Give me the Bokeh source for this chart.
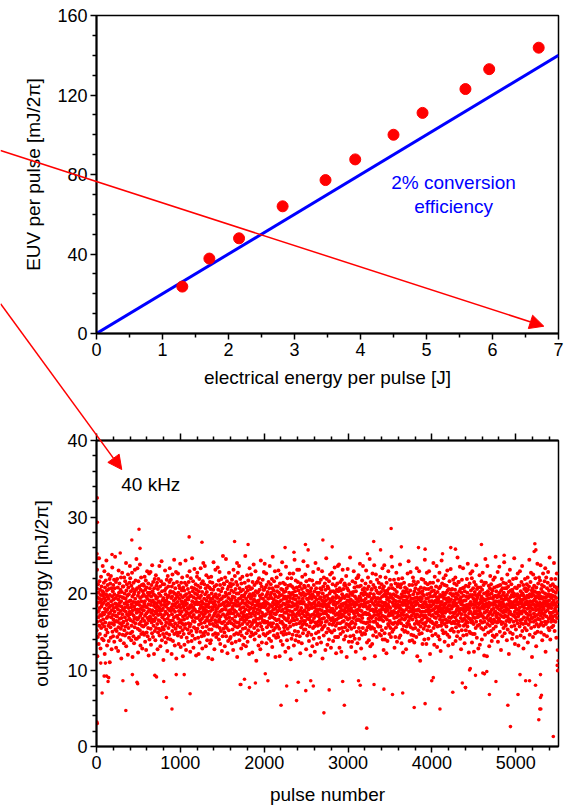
from bokeh.plotting import figure
from bokeh.layouts import column
from bokeh.models import Arrow, NormalHead, LinearAxis, FixedTicker, Label, Range1d
from bokeh.embed import file_html
from bokeh.resources import INLINE

FONT = "Liberation Sans"

# ---------------- top panel data ----------------
ELEC_J = [1.30, 1.71, 2.16, 2.82, 3.47, 3.92, 4.50, 4.94, 5.59, 5.95, 6.70]
EUV_MJ = [23.6, 37.7, 47.9, 64.0, 77.2, 87.6, 100.0, 111.0, 123.0, 133.0, 143.8]
FIT_J = [0, 7]
FIT_MJ = [0, 140]
TOP_XTICKS = [0, 1, 2, 3, 4, 5, 6, 7]
TOP_XMINOR = [0.5, 1.5, 2.5, 3.5, 4.5, 5.5, 6.5]
TOP_YTICKS = [0, 40, 80, 120, 160]
TOP_YMINOR = [10, 20, 30, 50, 60, 70, 90, 100, 110, 130, 140, 150]

# ---------------- bottom panel data ----------------
# pulse-to-pulse output energy (tenths of mJ/2pi), one value per 2 pulses
BAND_TENTHS = """
184 152 207 231 163 118 195 176 143 212 188 169 201 134 177 246 158 193 216 181 147 205 172 189 128 164 198 222 155 183 209 171 192 141 186 160 203 236 175 197
166 201 139 188 214 173 157 229 194 121 180 208 162 145 191 217 176 199 153 243 185 168 204 132 179 196 149 211 170 187 225 158 193 138 206 174 182 161 219 110
198 175 213 156 184 142 223 169 190 207 127 178 161 196 234 150 185 203 172 144 211 166 192 181 159 218 137 199 176 207 163 248 187 153 194 171 215 129 182 164
151 186 170 219 143 197 163 208 179 125 192 156 230 174 201 184 147 213 167 188 161 196 139 205 177 154 221 190 115 168 183 202 158 227 173 195 146 209 180 162
209 163 194 135 178 221 152 187 200 169 145 216 182 157 193 176 240 131 204 165 189 212 148 173 197 160 185 120 225 171 208 155 181 199 142 190 167 214 176 236
173 220 148 191 165 203 182 139 210 158 186 174 227 150 196 117 178 206 163 189 144 214 171 199 135 183 167 202 156 231 179 193 161 217 141 188 205 168 245 175
186 141 207 166 233 179 154 197 123 189 216 168 201 143 176 160 209 185 152 238 194 171 132 205 180 163 221 147 190 174 211 158 196 128 183 167 203 149 178 212
157 199 178 210 146 187 164 222 190 171 137 205 159 183 217 196 126 174 208 149 182 161 229 193 168 144 201 176 155 213 186 119 198 165 226 179 140 191 207 170
201 168 228 154 185 133 196 175 211 162 189 148 237 178 203 166 191 143 215 172 158 199 184 121 207 164 188 219 151 176 197 139 182 168 224 155 193 210 174 187
178 214 160 195 127 183 206 149 172 219 165 190 154 200 181 236 145 177 164 209 188 131 197 173 152 216 185 161 242 178 139 203 169 191 156 212 180 147 194 113
192 153 185 172 212 166 143 204 189 230 158 176 199 136 183 207 162 191 148 218 174 186 125 195 167 223 141 180 209 155 197 171 188 160 146 215 178 233 164 201
164 203 140 218 177 194 159 182 121 209 173 196 151 225 186 165 138 202 179 157 213 191 169 244 147 184 200 132 176 161 207 193 154 187 228 170 115 198 182 149
215 171 196 158 189 145 226 167 201 183 134 177 210 162 193 149 185 207 173 239 156 198 130 181 165 214 143 190 176 204 161 221 187 152 195 118 170 208 183 159
147 188 166 204 133 179 197 214 155 172 191 243 160 185 126 199 176 211 142 187 168 223 194 153 181 206 137 174 192 161 215 180 148 201 171 229 157 196 184 124
182 160 220 175 197 151 185 138 208 169 246 190 145 177 203 164 216 182 129 195 172 156 207 188 232 163 179 141 200 186 154 212 168 193 119 176 205 150 189 222
199 227 154 186 168 210 142 195 176 121 203 159 188 219 171 136 194 180 165 208 150 233 184 197 161 175 213 144 190 167 202 128 182 156 216 187 173 240 148 178
170 145 193 212 181 162 236 174 199 150 186 207 131 178 165 224 191 157 202 183 139 169 210 176 195 147 186 116 221 164 197 182 153 208 172 189 160 215 135 193
206 177 139 165 222 189 153 200 182 168 114 214 193 160 179 146 205 187 241 171 196 158 183 127 209 174 190 165 148 231 185 199 162 176 143 211 180 195 157 170
158 194 181 234 147 172 205 163 189 217 140 184 166 198 228 155 176 211 134 192 170 185 151 203 162 219 178 193 125 186 161 207 144 179 249 173 196 154 188 213
187 163 212 149 196 131 183 221 170 158 201 179 245 144 190 167 198 155 216 184 173 122 206 161 188 138 194 176 209 152 227 169 185 200 164 178 141 213 192 174
143 209 175 188 161 204 192 135 218 180 167 153 196 183 212 126 174 231 159 202 187 146 178 195 164 223 157 186 170 206 137 191 176 215 148 184 200 162 240 117
211 156 189 227 173 147 200 184 162 193 236 171 139 207 158 186 179 219 150 194 166 203 181 128 213 175 145 197 188 160 222 169 191 154 205 133 182 172 196 165
176 198 142 163 214 187 170 249 155 179 201 131 193 166 185 208 148 172 224 160 190 137 204 183 169 217 152 196 178 209 121 188 163 233 174 199 157 181 144 206
193 170 225 181 149 196 159 207 186 123 174 215 162 189 146 200 177 238 165 192 155 181 211 140 197 171 184 163 229 148 203 175 190 112 167 214 185 158 201 179
160 216 188 152 202 174 132 191 167 220 183 144 205 178 197 161 186 127 213 170 243 194 157 182 168 209 136 175 199 186 153 218 164 193 172 205 147 187 228 162
205 182 164 239 171 190 208 145 184 162 196 173 226 135 188 211 156 199 179 163 148 202 187 120 193 176 215 159 181 141 207 194 168 236 150 185 173 198 161 212
172 138 201 176 194 157 219 183 130 207 169 248 188 161 179 152 204 192 145 216 174 186 199 167 229 155 180 117 196 173 209 142 190 165 221 183 159 203 176 147
187 209 157 195 143 230 166 178 201 189 154 182 118 197 213 171 184 162 225 138 191 206 177 149 184 163 198 241 171 205 133 179 160 214 187 146 193 169 202 156
151 175 196 167 212 186 124 203 158 181 235 147 193 175 207 165 139 189 178 220 154 196 183 168 210 129 185 172 148 201 190 162 226 177 194 157 211 183 114 198
199 164 220 141 183 172 209 188 176 146 201 168 193 226 159 184 207 132 173 197 165 244 186 151 203 179 192 139 217 170 185 160 197 145 208 180 166 231 188 174
183 215 150 189 204 137 176 194 231 161 172 209 144 187 200 122 178 163 213 190 156 181 198 168 135 206 174 222 187 159 193 148 201 176 242 164 189 153 210 171
161 178 197 208 164 225 153 185 170 199 127 216 182 159 175 193 145 204 184 236 167 192 173 210 149 179 200 138 188 166 218 157 195 181 170 203 119 186 162 197
207 146 185 172 193 181 217 131 199 164 187 155 228 173 196 141 211 168 182 157 203 189 124 176 195 162 240 185 171 148 207 179 192 160 214 134 184 201 176 158
174 198 163 232 150 188 170 201 142 214 179 193 166 184 207 159 173 195 218 136 186 162 205 178 153 229 191 167 115 200 183 156 209 174 190 145 221 168 187 195
196 158 213 176 185 126 205 163 191 174 246 149 182 219 164 197 178 133 209 186 171 154 193 207 169 183 140 216 177 160 200 188 151 225 167 192 176 203 129 180
165 190 178 149 227 193 159 180 212 168 195 138 203 175 186 162 220 190 152 177 234 165 201 143 185 172 210 158 194 122 181 197 166 205 143 188 213 174 161 236
188 143 203 168 195 172 238 154 183 129 207 176 191 161 215 147 181 204 169 193 124 186 173 218 155 199 178 163 231 184 150 196 171 206 187 164 140 211 178 194
213 175 156 196 181 210 144 188 169 223 160 185 117 198 176 207 152 191 232 166 183 159 204 179 196 137 173 212 189 157 185 168 247 144 200 177 192 161 181 130
154 201 186 163 137 198 177 216 162 190 176 202 145 168 229 187 174 156 208 183 141 196 170 214 160 188 124 203 178 193 165 220 150 186 175 209 135 192 166 221
179 166 224 190 172 155 209 141 196 183 165 239 178 150 194 171 210 186 128 163 200 177 191 146 217 168 185 205 155 236 173 198 183 162 148 191 207 174 115 187
202 184 147 175 213 193 161 183 230 152 199 173 188 136 206 162 180 197 156 221 174 189 167 209 139 182 196 158 172 245 184 163 200 131 178 215 154 190 169 205
168 192 206 156 134 179 226 170 194 187 145 211 163 199 176 154 237 185 172 195 118 208 163 178 190 150 225 181 167 204 193 143 176 218 160 186 172 201 194 158
185 157 173 214 189 166 200 147 178 208 169 193 222 157 184 175 145 202 166 189 212 179 152 196 171 233 183 140 206 188 164 197 126 179 209 170 237 185 148 199
140 203 188 169 221 176 155 196 183 122 214 180 166 192 204 138 178 200 186 160 229 171 194 158 183 207 174 147 190 164 218 199 181 155 172 195 143 211 176 248
197 175 161 235 150 188 207 172 193 160 184 153 199 177 218 168 191 129 186 205 162 175 143 213 197 181 156 190 227 169 184 202 137 196 175 160 209 186 171 212
163 219 182 195 177 142 190 165 210 184 238 171 145 208 180 194 161 212 174 135 199 188 167 220 153 178 196 185 123 203 172 191 158 176 214 187 150 166 201 189
208 151 196 168 185 203 127 179 191 157 172 206 183 161 195 226 149 187 170 201 182 242 164 190 176 159 211 138 197 181 168 204 189 228 156 177 193 146 185 171
176 187 139 211 166 193 180 221 154 199 183 145 216 174 189 136 203 178 160 194 170 155 207 185 212 169 190 143 178 164 233 195 173 118 187 200 161 215 179 152
192 160 205 178 229 147 184 170 201 163 112 195 176 157 208 190 172 184 219 148 193 166 182 203 134 176 199 161 186 218 171 154 197 182 207 140 169 189 244 176
158 214 171 188 162 206 193 134 178 185 227 168 199 152 183 212 165 194 176 141 206 180 157 229 173 190 166 200 185 121 214 177 163 196 151 183 208 171 190 163
203 178 190 145 196 172 161 214 186 240 155 179 204 188 133 197 169 222 159 181 175 200 147 191 168 209 183 162 236 174 195 130 188 157 202 176 217 192 144 180
171 195 158 207 183 227 140 189 166 198 176 209 125 185 170 158 196 180 243 162 189 213 174 152 197 178 165 201 185 148 220 170 193 182 160 211 137 198 186 175
187 149 224 166 178 201 193 157 210 181 162 191 230 146 204 177 189 164 132 194 184 206 169 179 143 216 190 163 185 200 175 152 232 168 192 117 205 180 161 199
154 206 183 197 170 134 188 218 175 163 199 150 186 174 213 191 161 184 205 169 221 138 195 176 156 187 200 165 211 179 144 193 172 247 183 160 198 150 215 179
215 163 178 189 203 175 158 235 192 141 206 180 168 195 127 186 173 201 152 218 179 164 190 207 185 166 233 145 180 197 158 208 176 191 167 135 203 184 172 160
177 191 152 210 164 196 181 146 185 219 170 201 157 183 239 162 194 179 209 168 123 186 174 196 150 213 181 167 198 176 226 189 148 204 165 185 196 162 220 136
164 229 198 173 147 186 207 169 193 160 181 124 215 176 190 147 202 168 185 198 174 155 211 189 163 237 177 192 142 206 182 169 195 158 173 208 187 128 199 181
199 170 186 159 224 177 133 202 188 174 208 164 192 181 155 196 216 172 140 189 205 162 183 227 170 193 153 186 211 168 180 200 119 175 163 214 191 146 185 245
183 156 214 192 176 201 168 187 118 197 178 236 160 184 203 171 149 193 182 210 165 188 131 199 174 158 207 185 223 167 194 176 151 212 187 163 200 138 179 205
172 204 161 145 193 185 218 154 180 196 166 189 208 143 175 221 186 163 197 176 248 157 190 171 203 183 146 209 169 195 162 181 228 174 137 198 189 165 210 184
190 167 235 179 201 150 188 172 211 196 163 185 126 204 177 193 160 219 182 170 144 207 189 162 198 175 214 155 186 201 169 241 178 192 148 183 207 171 196 159
158 213 176 194 164 207 181 139 198 186 225 170 153 192 179 209 167 185 202 121 191 174 216 163 187 231 176 149 195 182 204 166 189 173 212 157 198 185 141 203
205 182 147 188 219 171 196 163 184 200 172 246 158 190 176 134 208 185 169 197 181 153 220 192 165 179 207 143 189 174 199 161 226 186 170 195 132 210 178 188
173 196 210 157 182 229 165 192 176 145 203 187 161 198 215 174 189 166 236 151 183 200 177 192 160 211 128 185 197 169 142 206 181 193 155 219 176 188 207 164
194 161 186 203 174 152 212 190 168 197 180 221 136 205 187 172 195 159 184 209 166 244 181 146 199 176 190 163 215 185 172 227 155 196 181 168 204 117 189 200
168 207 179 143 225 186 198 163 191 174 210 157 185 203 170 193 148 220 182 165 196 178 131 208 189 160 201 184 172 239 150 195 186 167 213 179 157 199 184 221
201 175 193 166 188 217 159 182 237 171 196 149 206 185 162 178 211 193 139 187 174 202 168 226 183 158 195 180 209 146 190 172 216 187 163 200 233 176 124 194
160 189 221 184 170 196 144 207 178 190 163 214 186 228 155 199 181 167 204 191 152 183 247 175 196 168 140 210 186 171 198 163 219 181 194 156 205 175 188 166
197 212 170 185 158 203 191 176 240 164 187 209 151 196 180 171 219 163 185 201 177 194 142 208 183 226 168 189 205 174
"""
BAND_E = [int(v) / 10 for v in BAND_TENTHS.split()]
PULSES_PER_VALUE = 2
BAND_PULSE = [i * PULSES_PER_VALUE for i in range(len(BAND_E))]

# individually readable outliers (pulse number, energy)
OUT_PULSE = [8, 10, 6, 12, 421, 507, 519, 283, 185, 1105, 1258, 1647, 1808, 2249, 2355, 2700,
             3306, 2492, 2811, 3514, 4591, 5228, 5220, 5240, 3636, 3840, 3919, 4225, 4281,
             2524, 3388, 3231, 4862, 4127,
             5, 9, 67, 350, 834, 900, 1116, 491, 315, 138, 120, 145, 696, 802, 951, 1714,
             1765, 1824, 1895, 2013, 2044, 2201, 2268, 2386, 2712, 2956, 3223, 2496, 2586,
             2775, 3145, 3310, 3428, 3530, 3652, 3789, 3919, 4096, 4249, 4399, 4686, 4906,
             4937, 5027, 5275, 5287, 5295, 5307, 5236, 5448, 5499, 5495, 5497, 3998, 4017,
             3125, 2936, 2555, 2406, 4458, 4520, 4627, 4363, 4402, 5299, 5051, 5118, 5165,
             5295, 5505, 5507, 4607, 4655, 4764, 4449, 91, 428, 483, 716, 1046, 51, 106, 1722]
OUT_E = [32.5, 29.3, 25.2, 24.6, 27.0, 28.4, 25.9, 25.3, 25.1, 27.4, 26.7, 26.8, 26.4, 26.0, 25.4, 27.0,
         26.8, 26.4, 26.1, 28.5, 26.4, 26.5, 25.5, 25.7, 26.1, 26.0, 25.8, 26.0, 25.8,
         25.7, 25.7, 25.2, 25.0, 25.2,
         3.2, 3.0, 7.0, 4.7, 6.4, 4.9, 6.9, 8.2, 8.6, 8.5, 9.2, 9.0, 9.3, 8.5, 9.4, 8.1,
         8.8, 7.7, 8.3, 9.5, 8.6, 5.4, 7.9, 6.0, 4.4, 5.4, 2.4, 7.3, 7.9,
         7.4, 8.0, 8.1, 7.5, 6.8, 7.0, 5.1, 5.6, 4.9, 7.1, 7.7, 6.8, 5.4,
         2.6, 6.8, 3.5, 4.9, 6.4, 6.7, 8.0, 1.3, 9.9, 10.6, 12.6, 8.6, 9.0,
         8.6, 8.5, 8.6, 8.4, 10.2, 9.3, 9.5, 8.3, 7.7, 4.9, 9.4, 8.6, 8.6,
         9.4, 11.2, 10.0, 9.6, 9.8, 8.5, 10.0, 9.2, 9.4, 8.4, 9.1, 9.4, 10.9, 10.9, 8.1]

BOT_XTICKS = [0, 1000, 2000, 3000, 4000, 5000]
BOT_XMINOR = [v for v in range(200, 5501, 200) if v % 1000 != 0]
BOT_YTICKS = [0, 10, 20, 30, 40]
BOT_YMINOR = [v for v in range(2, 40, 2) if v % 10 != 0]

# arrow annotations, in the data coordinates of the panel they point into
ARROW1_TOP = (-1.436, 92.1, 6.778, 3.67)       # x0, y0, x1, y1 (top panel)
ARROW2_BOT = (-1132, 57.87, 298, 36.2)         # x0, y0, x1, y1 (bottom panel)

RED = "#ff0000"
W = 565
# frame geometry of the two panels (page pixels) - set by the borders below
TOP_FRAME = dict(left=95, top=15, width=463, height=318, x=(0, 7), y=(0, 160))
BOT_FRAME = dict(left=96, top=440, width=467, height=306, x=(0, 5510), y=(0, 40))


def to_page(fr, x, y):
    sx = fr["left"] + (x - fr["x"][0]) / (fr["x"][1] - fr["x"][0]) * fr["width"]
    sy = fr["top"] + (fr["y"][1] - y) / (fr["y"][1] - fr["y"][0]) * fr["height"]
    return sx, sy


def style_axis(ax, tick_size="18px", label_size="19px"):
    ax.axis_line_width = 2
    ax.axis_line_color = "black"
    ax.major_tick_in = 0
    ax.major_tick_out = 6
    ax.minor_tick_in = 0
    ax.minor_tick_out = 4
    ax.major_tick_line_width = 1.5
    ax.minor_tick_line_width = 1.5
    ax.major_label_text_font = FONT
    ax.major_label_text_font_size = tick_size
    ax.major_label_text_color = "black"
    ax.major_label_standoff = 3
    ax.axis_label_text_font = FONT
    ax.axis_label_text_font_size = label_size
    ax.axis_label_text_font_style = "normal"
    ax.axis_label_text_color = "black"


# ---------------- top figure ----------------
p1 = figure(width=W, height=395, x_range=Range1d(*TOP_FRAME["x"]), y_range=Range1d(*TOP_FRAME["y"]),
            output_backend="svg", toolbar_location=None,
            min_border_left=95, min_border_right=7, min_border_top=15, min_border_bottom=62)
p1.grid.grid_line_color = None
p1.outline_line_color = "black"
p1.outline_line_width = 1.5
p1.background_fill_color = "white"
p1.border_fill_color = "white"

p1.xaxis.ticker = FixedTicker(ticks=TOP_XTICKS, minor_ticks=TOP_XMINOR)
p1.yaxis.ticker = FixedTicker(ticks=TOP_YTICKS, minor_ticks=TOP_YMINOR)
p1.xaxis.axis_label = "electrical energy per pulse [J]"
p1.yaxis.axis_label = "EUV per pulse [mJ/2\u03c0]"
style_axis(p1.xaxis[0])
style_axis(p1.yaxis[0])
p1.xaxis.axis_label_standoff = 8
p1.yaxis.axis_label_standoff = 10

p1.line(FIT_J, FIT_MJ, line_width=3, color="#0000ff")
p1.scatter(ELEC_J, EUV_MJ, size=11, color=RED)

p1.add_layout(Label(x=5.41, y=76.1, text="2% conversion", text_align="center",
                    text_baseline="alphabetic", text_font=FONT, text_font_size="19px",
                    text_color="#0000ff"))
p1.add_layout(Label(x=5.41, y=63.9, text="efficiency", text_align="center",
                    text_baseline="alphabetic", text_font=FONT, text_font_size="19px",
                    text_color="#0000ff"))

# ---------------- bottom figure ----------------
p2 = figure(width=W, height=413, x_range=Range1d(*BOT_FRAME["x"]), y_range=Range1d(*BOT_FRAME["y"]),
            output_backend="svg", toolbar_location=None,
            min_border_left=96, min_border_right=2, min_border_top=45, min_border_bottom=62)
p2.grid.grid_line_color = None
p2.outline_line_color = "black"
p2.outline_line_width = 1.5
p2.background_fill_color = "white"
p2.border_fill_color = "white"

p2.xaxis.ticker = FixedTicker(ticks=BOT_XTICKS, minor_ticks=BOT_XMINOR)
p2.yaxis.ticker = FixedTicker(ticks=BOT_YTICKS, minor_ticks=BOT_YMINOR)
p2.xaxis.axis_label = "pulse number"
p2.yaxis.axis_label = "output energy [mJ/2\u03c0]"
style_axis(p2.xaxis[0])
style_axis(p2.yaxis[0])
p2.xaxis.axis_label_standoff = 12
p2.yaxis.axis_label_standoff = 12

top_ax = LinearAxis(ticker=FixedTicker(ticks=BOT_XTICKS, minor_ticks=BOT_XMINOR))
style_axis(top_ax)
top_ax.major_tick_out = 7
top_ax.major_label_overrides = {t: "" for t in BOT_XTICKS}
top_ax.major_label_standoff = 0
p2.add_layout(top_ax, "above")

p2.scatter(BAND_PULSE, BAND_E, size=4.0, color=RED, line_width=0)
p2.scatter(OUT_PULSE, OUT_E, size=3.6, color=RED, line_width=0)

p2.add_layout(Label(x=295, y=34.2, text="40 kHz", text_baseline="alphabetic",
                    text_font=FONT, text_font_size="19px", text_color="black"))

layout = column(p1, p2, spacing=0)

# ---------------- transparent overlay for the two arrows that cross panels ----------------
ov = figure(width=W, height=808, x_range=Range1d(0, W), y_range=Range1d(808, 0),
            output_backend="svg", toolbar_location=None, min_border=0,
            x_axis_location=None, y_axis_location=None,
            background_fill_color=None, border_fill_color=None, outline_line_color=None,
            styles={"position": "absolute", "top": "0px", "left": "0px",
                    "z-index": "5", "pointer-events": "none"})
ov.grid.grid_line_color = None
for fr, (x0, y0, x1, y1) in ((TOP_FRAME, ARROW1_TOP), (BOT_FRAME, ARROW2_BOT)):
    sx0, sy0 = to_page(fr, x0, y0)
    sx1, sy1 = to_page(fr, x1, y1)
    ov.add_layout(Arrow(end=NormalHead(size=14, fill_color=RED, line_color=RED, line_width=1),
                        x_start=sx0, y_start=sy0, x_end=sx1, y_end=sy1,
                        line_color=RED, line_width=1.5))

open("out.html", "w").write(file_html([layout, ov], INLINE))
